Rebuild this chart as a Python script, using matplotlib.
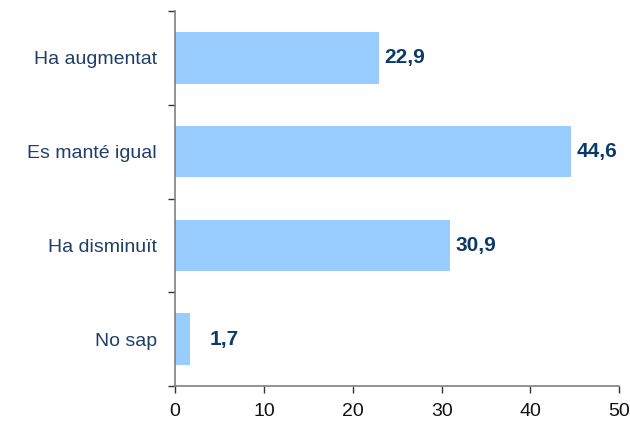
import matplotlib.pyplot as plt
import numpy as np

categories = ["Ha augmentat", "Es manté igual", "Ha disminuït", "No sap"]
values = [22.9, 44.6, 30.9, 1.7]
labels = ["22,9", "44,6", "30,9", "1,7"]
x_ticks = [0, 10, 20, 30, 40, 50]

plt.rcParams["font.family"] = ["Liberation Sans", "DejaVu Sans"]

fig = plt.figure(figsize=(6.3, 4.22), dpi=100)
ax = fig.add_axes([0.278, 0.085, 0.705, 0.889])

n = len(categories)
pos = np.arange(n)
ax.barh(pos, values, height=0.55, color="#99CCFF", edgecolor="none", zorder=2)

for p, v, lab in zip(pos, values, labels):
    ax.annotate(lab, (max(v, 3.3), p), xytext=(4, 0), textcoords="offset points",
                ha="left", va="center", fontsize=15, fontweight="bold", color="#0B3A6A")

ax.set_xlim(0, 50)
ax.set_ylim(n - 0.5, -0.5)
ax.set_xticks(x_ticks)
ax.set_xticklabels([str(t) for t in x_ticks], fontsize=14, color="#111111")

# category boundaries get ticks, labels sit between them
ax.set_yticks(np.arange(n + 1) - 0.5)
ax.set_yticklabels([])
ax.set_yticks(pos, minor=True)
ax.set_yticklabels(categories, minor=True, fontsize=14, color="#1F3F66")
ax.tick_params(axis="y", which="minor", length=0, pad=13)
ax.tick_params(axis="y", which="major", length=5, color="#333333", width=1)
ax.tick_params(axis="x", length=5, color="#333333", width=1, pad=7)

for side in ["top", "right"]:
    ax.spines[side].set_visible(False)
for side in ["left", "bottom"]:
    ax.spines[side].set_color("#808080")
    ax.spines[side].set_linewidth(1.2)

fig.savefig("out.png", dpi=100)
